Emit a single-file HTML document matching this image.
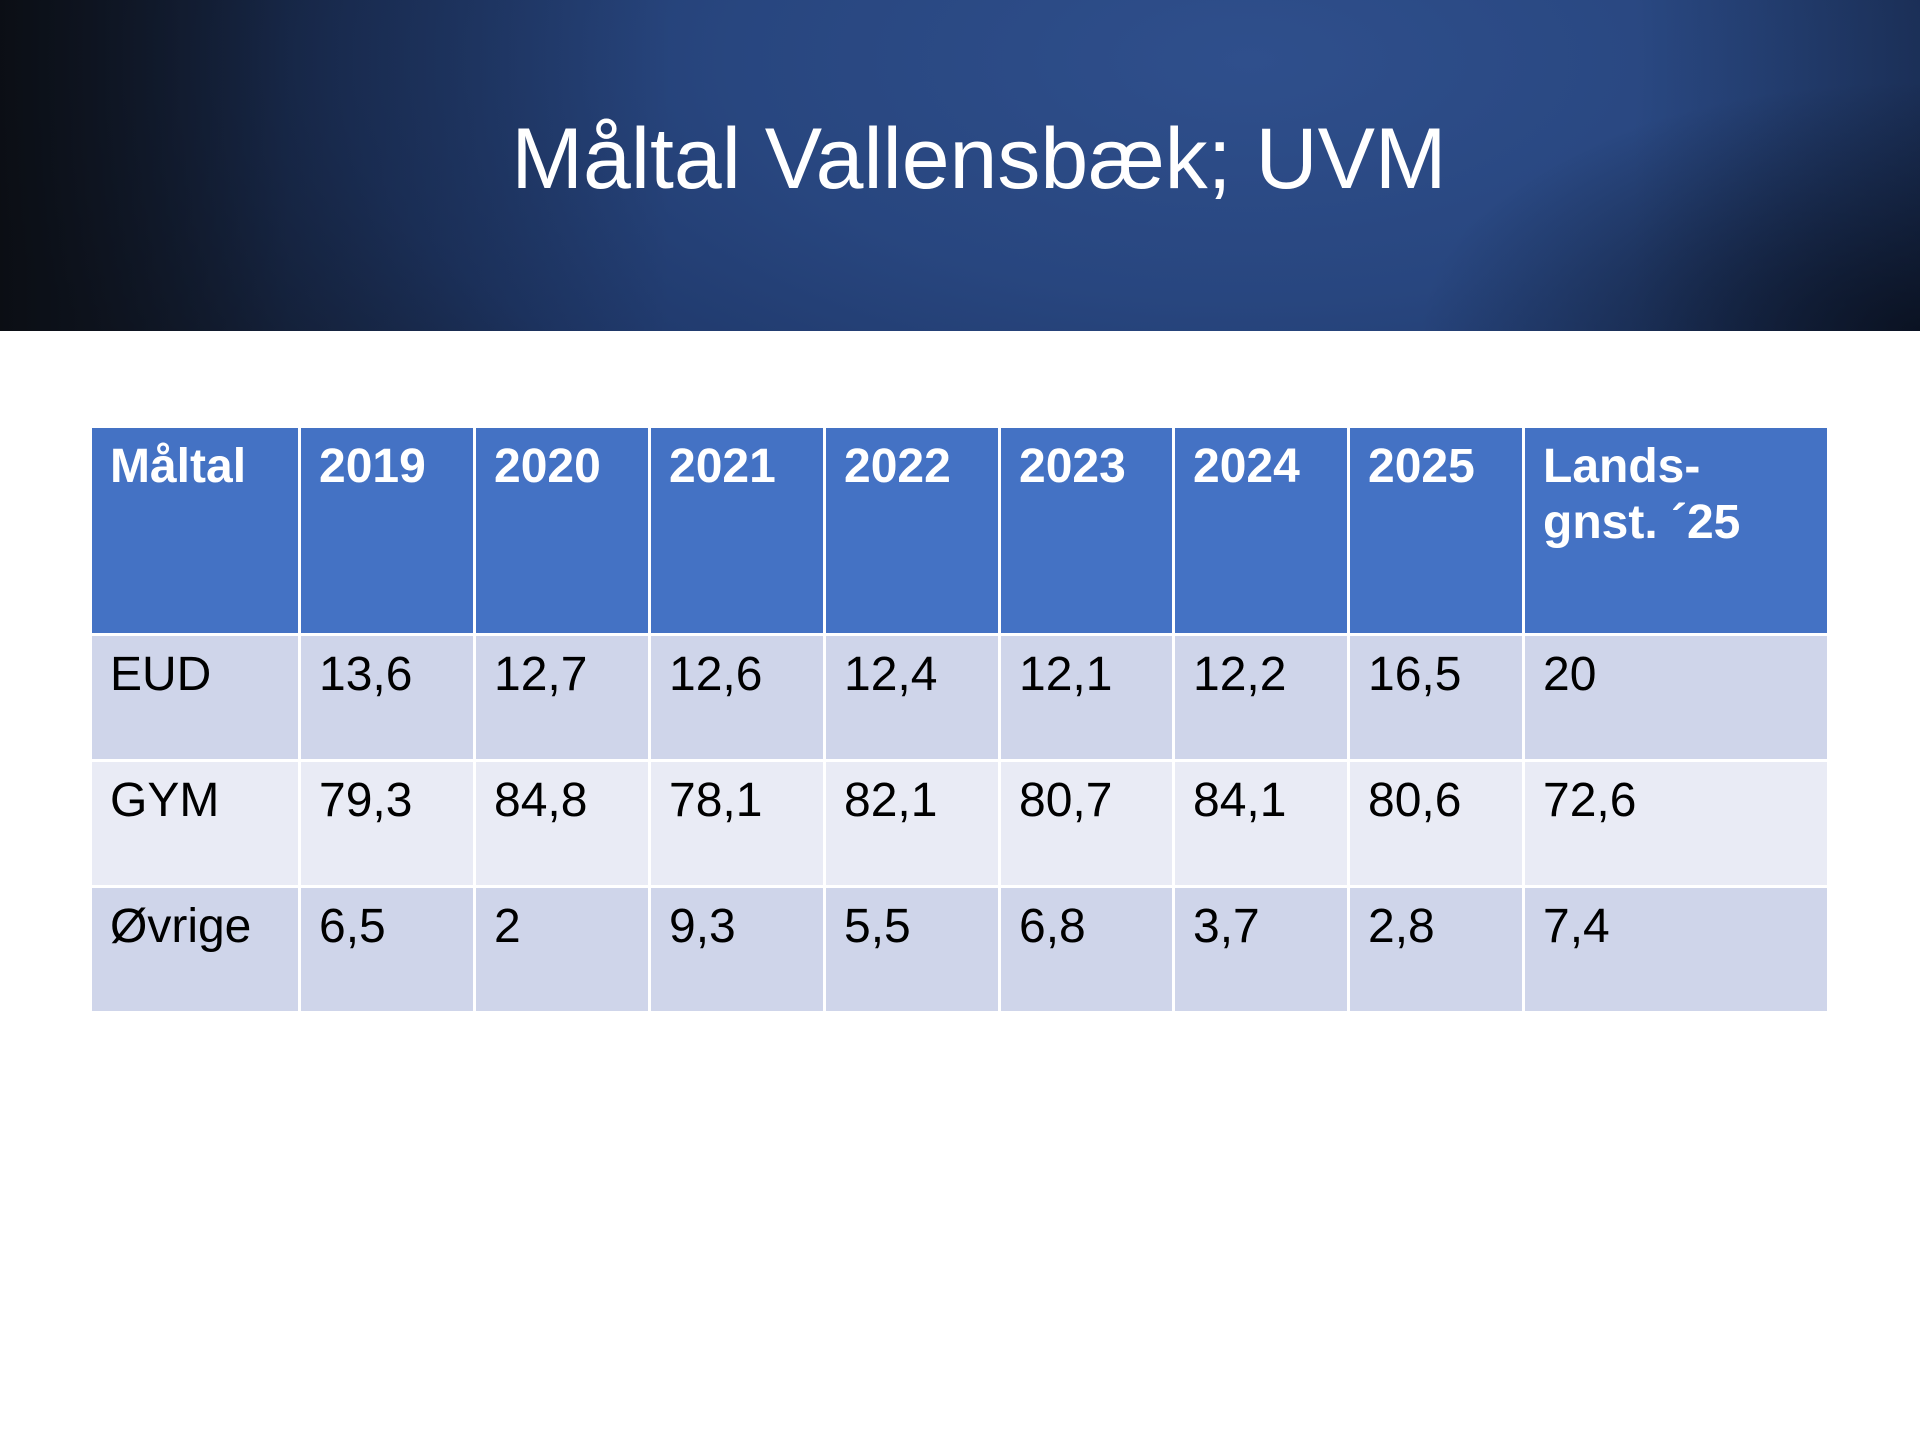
<!DOCTYPE html>
<html><head><meta charset="utf-8"><style>
html,body{margin:0;padding:0;width:1920px;height:1440px;background:#fff;overflow:hidden}
.hdr{position:absolute;left:0;top:0;width:1920px;height:331px;
background:radial-gradient(ellipse 1300px 600px at 1250px 60px,#2f4f8c 0%,#28467f 40%,#1f386a 70%,#15223c 100%);}
.hdr2{position:absolute;left:0;top:0;width:1920px;height:331px;
background:linear-gradient(90deg,rgba(10,12,16,0.9) 0%,rgba(10,12,16,0.35) 15%,rgba(0,0,0,0) 35%,rgba(0,0,0,0) 85%,rgba(5,8,15,0.3) 100%);}
.hdr3{position:absolute;left:0;top:0;width:1920px;height:331px;
background:radial-gradient(ellipse 500px 250px at 1920px 331px,rgba(5,8,15,0.7) 0%,rgba(5,8,15,0) 100%);}
.title{position:absolute;left:0;width:1958px;top:107px;text-align:center;color:#fff;font-family:"Liberation Sans",sans-serif;font-size:86px;line-height:104px}
table{position:absolute;left:89px;top:425px;border-collapse:collapse;font-family:"Liberation Sans",sans-serif}
td{border:3px solid #fff;vertical-align:top;padding:11px 0 0 18px;font-size:48px;line-height:56px;color:#000;box-sizing:border-box}
tr.h td{background:#4472C4;color:#fff;font-weight:bold;height:208px}
tr.a td{background:#CFD5EA;height:126px}
tr.b td{background:#E9EBF5;height:126px}
</style></head><body>
<div class="hdr"></div><div class="hdr2"></div><div class="hdr3"></div>
<div class="title">Måltal Vallensbæk; UVM</div>
<table>
<colgroup><col style="width:209px"><col style="width:175px"><col style="width:175px"><col style="width:175px"><col style="width:175px"><col style="width:174px"><col style="width:175px"><col style="width:175px"><col style="width:305px"></colgroup>
<tr class="h"><td>Måltal</td><td>2019</td><td>2020</td><td>2021</td><td>2022</td><td>2023</td><td>2024</td><td>2025</td><td>Lands-<br>gnst. ´25</td></tr>
<tr class="a"><td>EUD</td><td>13,6</td><td>12,7</td><td>12,6</td><td>12,4</td><td>12,1</td><td>12,2</td><td>16,5</td><td>20</td></tr>
<tr class="b"><td>GYM</td><td>79,3</td><td>84,8</td><td>78,1</td><td>82,1</td><td>80,7</td><td>84,1</td><td>80,6</td><td>72,6</td></tr>
<tr class="a"><td>Øvrige</td><td>6,5</td><td>2</td><td>9,3</td><td>5,5</td><td>6,8</td><td>3,7</td><td>2,8</td><td>7,4</td></tr>
</table>
</body></html>
